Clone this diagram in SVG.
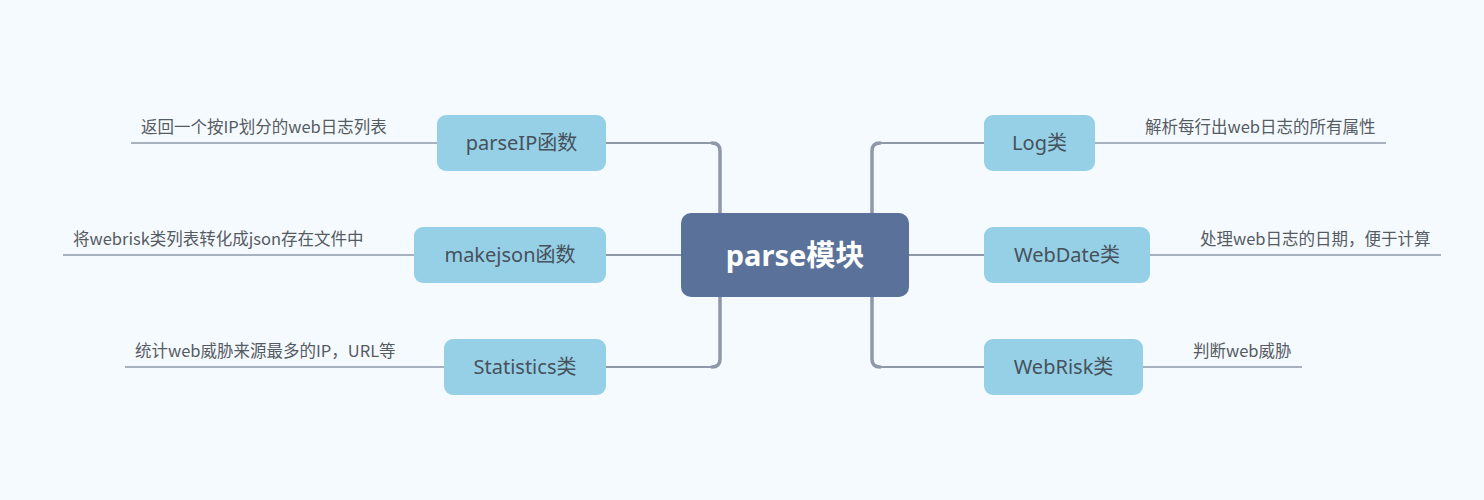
<svg xmlns="http://www.w3.org/2000/svg" width="1484" height="500" viewBox="0 0 1484 500">
<style>
.bg{fill:#F5FAFE}
.sub{fill:#96D0E6}
.sub-t{font-family:"Noto Sans","Noto Sans CJK SC",sans-serif;font-size:20px;fill:#46515C;text-anchor:middle}
.root{fill:#5A7199}
.root-t{font-family:"Noto Sans","Noto Sans CJK SC",sans-serif;font-size:29px;font-weight:bold;fill:#FFFFFF;text-anchor:middle}
.lbl{font-family:"Noto Sans CJK SC",sans-serif;font-size:16.5px;fill:#555B63}
.ln{stroke:#8E98A8;stroke-width:2;fill:none}
.trunk{stroke:#8E98A8;stroke-width:3.5;fill:none;stroke-linecap:round}
.uln{stroke:#8E98A8;stroke-width:1.5;fill:none}
</style>
<rect class="bg" x="0" y="0" width="1484" height="500"/>
<g id="connectors">
<line class="ln" x1="606" y1="143" x2="712" y2="143"/>
<path class="trunk" d="M712 143 Q720 143 720 151 V213"/>
<line class="ln" x1="606" y1="367" x2="712" y2="367"/>
<path class="trunk" d="M712 367 Q720 367 720 359 V297"/>
<line class="ln" x1="606" y1="255" x2="681" y2="255"/>
<line class="ln" x1="880" y1="143" x2="984" y2="143"/>
<path class="trunk" d="M880 143 Q872 143 872 151 V213"/>
<line class="ln" x1="880" y1="367" x2="984" y2="367"/>
<path class="trunk" d="M880 367 Q872 367 872 359 V297"/>
<line class="ln" x1="909" y1="255" x2="984" y2="255"/>
<line class="uln" x1="131" y1="143" x2="437" y2="143"/>
<line class="uln" x1="63" y1="255" x2="414" y2="255"/>
<line class="uln" x1="125" y1="367" x2="444" y2="367"/>
<line class="uln" x1="1095" y1="143" x2="1386" y2="143"/>
<line class="uln" x1="1150" y1="255" x2="1441" y2="255"/>
<line class="uln" x1="1143" y1="367" x2="1302" y2="367"/>
</g>
<g id="root">
<rect class="root" x="681" y="213" width="228" height="84" rx="10"/>
<text class="root-t" x="795" y="266">parse模块</text>
</g>
<g id="parseIP">
<rect class="sub" x="437" y="115" width="169" height="56" rx="9"/>
<text class="sub-t" x="521.5" y="150">parseIP函数</text>
<text class="lbl" x="141" y="133">返回一个按IP划分的web日志列表</text>
</g>
<g id="makejson">
<rect class="sub" x="414" y="227" width="192" height="56" rx="9"/>
<text class="sub-t" x="510" y="262">makejson函数</text>
<text class="lbl" x="73" y="245">将webrisk类列表转化成json存在文件中</text>
</g>
<g id="statistics">
<rect class="sub" x="444" y="339" width="162" height="56" rx="9"/>
<text class="sub-t" x="525" y="374">Statistics类</text>
<text class="lbl" x="135" y="357">统计web威胁来源最多的IP，URL等</text>
</g>
<g id="log">
<rect class="sub" x="984" y="115" width="111" height="56" rx="9"/>
<text class="sub-t" x="1039.5" y="150">Log类</text>
<text class="lbl" x="1145" y="133">解析每行出web日志的所有属性</text>
</g>
<g id="webdate">
<rect class="sub" x="984" y="227" width="166" height="56" rx="9"/>
<text class="sub-t" x="1067" y="262">WebDate类</text>
<text class="lbl" x="1200" y="245">处理web日志的日期，便于计算</text>
</g>
<g id="webrisk">
<rect class="sub" x="984" y="339" width="159" height="56" rx="9"/>
<text class="sub-t" x="1063.5" y="374">WebRisk类</text>
<text class="lbl" x="1193" y="357">判断web威胁</text>
</g>
</svg>
